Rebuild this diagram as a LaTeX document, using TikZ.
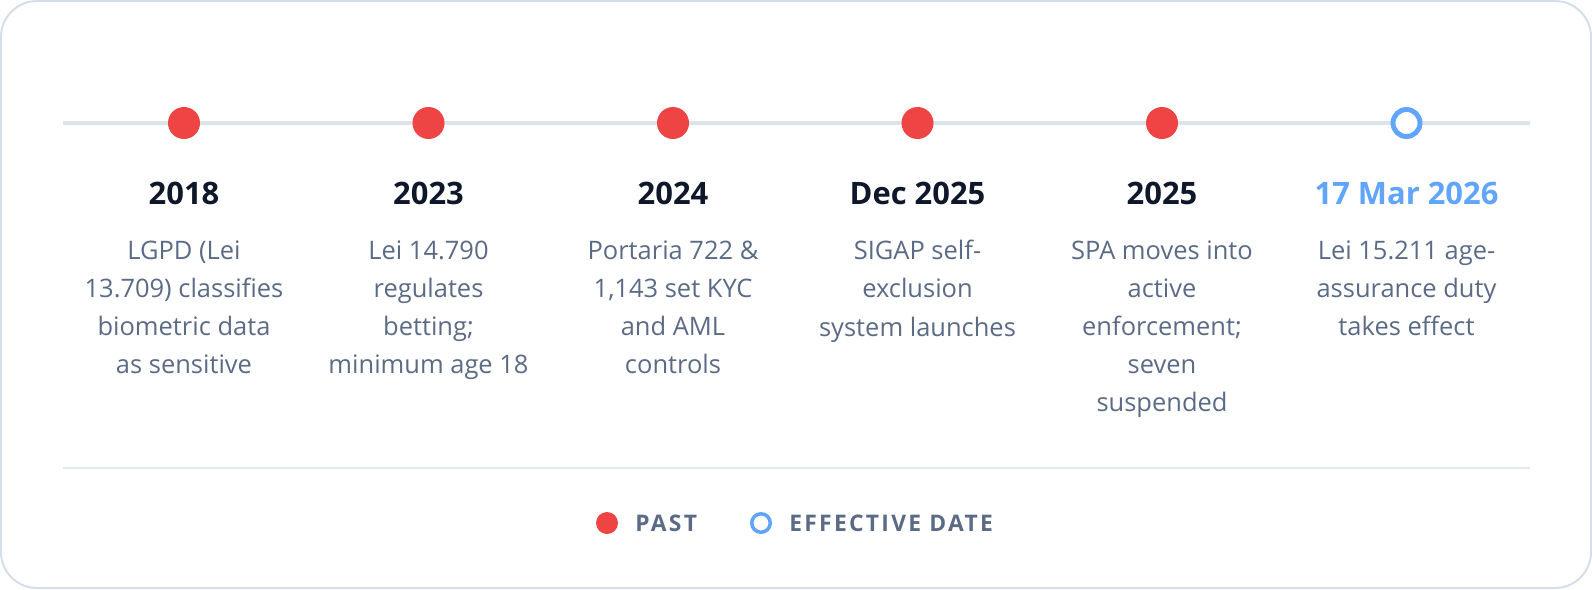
\documentclass[tikz,border=0pt]{standalone}
\usepackage{fontspec}
\setmainfont{Open Sans}
\newfontfamily\legendfont[LetterSpace=10]{Open Sans}
\usetikzlibrary{positioning}

\definecolor{pastred}{HTML}{EF4444}
\definecolor{effblue}{HTML}{60A5FA}
\definecolor{navy}{HTML}{0F172A}
\definecolor{slate}{HTML}{5B6B86}
\definecolor{railgray}{HTML}{DCE3EB}
\definecolor{framegray}{HTML}{D5DEE8}
\definecolor{rulegray}{HTML}{E4E9EF}

\begin{document}
\begin{tikzpicture}[x=0.02cm, y=-0.02cm,
    pastdot/.style={circle, fill=pastred, inner sep=0pt, minimum size=0.64cm},
    effring/.style={circle, draw=effblue, fill=white, line width=2.8pt, inner sep=0pt, minimum size=0.54cm},
    datelbl/.style={anchor=base, inner sep=0pt, text=navy, font=\fontsize{17.6}{20}\selectfont\bfseries},
    desc/.style={anchor=north, inner sep=0pt, align=center, text=slate, font=\fontsize{14.5}{21.7}\selectfont},
    legendtxt/.style={anchor=base west, inner sep=0pt, text=slate, font=\legendfont\fontsize{13}{15}\selectfont\bfseries}]

    % === frame ===
    \useasboundingbox (0,0) rectangle (1592,589);
    \draw[framegray, line width=1.1pt, rounded corners=0.72cm] (1,1) rectangle (1591,588);

    % === rail ===
    \coordinate (railL) at (63,123);
    \coordinate (railR) at (1530,123);
    \draw[railgray, line width=2.3pt] (railL) -- (railR);

    % === markers ===
    \node[pastdot] (m1) at (184,123) {};
    \node[pastdot] (m2) at (428.5,123) {};
    \node[pastdot] (m3) at (673,123) {};
    \node[pastdot] (m4) at (917.5,123) {};
    \node[pastdot] (m5) at (1162,123) {};
    \node[effring] (m6) at (1406.5,123) {};

    % === dates ===
    \node[datelbl] (d1) at (184,204) {2018};
    \node[datelbl] (d2) at (428.5,204) {2023};
    \node[datelbl] (d3) at (673,204) {2024};
    \node[datelbl] (d4) at (917.5,204) {Dec 2025};
    \node[datelbl] (d5) at (1162,204) {2025};
    \node[datelbl, text=effblue] (d6) at (1406.5,204) {17 Mar 2026};

    % === descriptions ===
    \node[desc] (t1) at (184,240) {LGPD (Lei\\13.709) classifies\\biometric data\\as sensitive};
    \node[desc] (t2) at (428.5,240) {Lei 14.790\\regulates\\betting;\\minimum age 18};
    \node[desc] (t3) at (673,240) {Portaria 722 \&\\1,143 set KYC\\and AML\\controls};
    \node[desc] (t4) at (917.5,240) {SIGAP self-\\exclusion\\system launches};
    \node[desc] (t5) at (1162,240) {SPA moves into\\active\\enforcement;\\seven\\suspended};
    \node[desc] (t6) at (1406.5,240) {Lei 15.211 age-\\assurance duty\\takes effect};

    % === separator ===
    \coordinate (sepL) at (63,468);
    \coordinate (sepR) at (1530,468);
    \draw[rulegray, line width=1.1pt] (sepL) -- (sepR);

    % === legend ===
    \node[circle, fill=pastred, inner sep=0pt, minimum size=0.44cm] (lgpast) at (607,523) {};
    \node[legendtxt] (lgpasttxt) at (635,531) {PAST};
    \node[circle, draw=effblue, fill=white, line width=2pt, inner sep=0pt, minimum size=0.37cm] (lgeff) at (761,523) {};
    \node[legendtxt] (lgefftxt) at (789,531) {EFFECTIVE DATE};

  \end{tikzpicture}
\end{document}
